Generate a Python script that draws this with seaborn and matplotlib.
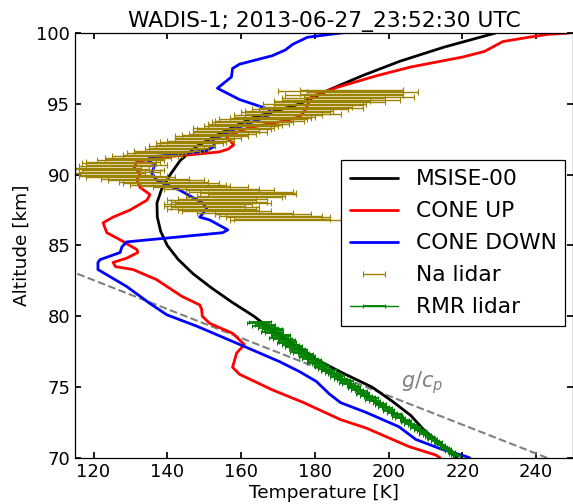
import numpy as np
import pandas as pd
import seaborn as sns
import matplotlib
matplotlib.use("Agg")
import matplotlib.pyplot as plt

# MSISE-00 model profile
msis_alt = [70, 71, 72, 73, 74, 75, 76, 77, 78, 79, 80, 81, 82, 83, 84, 85,
            86, 87, 88, 89, 90, 91, 92, 93, 94, 95, 96, 97, 98, 99, 100]
msis_temp = [218.5, 214, 209.5, 206, 201, 195.5, 187.5, 180, 174.5, 168.5, 163.5, 157.5,
             152, 147, 143, 140, 138.2, 137.3, 137.2, 138.5, 140.8, 143.5, 148,
             155, 163, 176, 184, 193, 203, 215, 229]

# CONE UP (rocket ascent)
up_alt = [100.0, 99.9, 99.7, 99.4, 98.7, 98.3, 97.6, 97.0, 96.2, 95.5, 94.6, 94.1,
          93.8, 93.6, 93.3, 92.9, 92.7, 92.4, 92.1, 91.8, 91.6, 91.4, 91.2, 90.9,
          90.5, 90.1, 89.6, 89.1, 88.6, 88.2, 87.5, 87.0, 86.6, 85.9, 85.4, 84.7,
          84.5, 84.1, 83.8, 83.5, 83.3, 82.6, 81.4, 80.8, 80.5, 80.0, 79.5, 78.8,
          78.0, 77.4, 76.4, 75.9, 74.8, 73.9, 72.7, 72.1, 70.8, 70.2, 70.0]
up_temp = [249, 243, 238, 231, 226, 220, 206, 197, 186.5, 179, 177.5, 176,
           172, 167.7, 162, 158, 156, 157, 158, 156.5, 154, 146, 137, 131.7,
           131, 132.6, 131.8, 132.6, 135.3, 134.5, 129.9, 125.3, 122.6, 123.6, 127.2, 131.8,
           132, 129, 125.3, 126, 130.7, 137, 144, 148.8, 149.3, 149.5, 151.5, 157.7,
           160.9, 158.8, 157.7, 159.6, 168.5, 177, 187, 194, 205.5, 212.8, 214]

# CONE DOWN (rocket descent)
down_alt = [100.3, 100.0, 99.7, 99.2, 98.8, 98.4, 97.8, 97.5, 96.9, 96.1, 95.3, 94.6,
            94.3, 94.1, 93.3, 92.45, 92.0, 91.7, 91.4, 91.25, 91.0, 90.7, 90.1, 89.6,
            88.9, 88.0, 87.6, 87.0, 86.8, 86.1, 85.9, 85.25, 84.9, 84.5, 84.0, 83.8,
            83.3, 82.1, 80.9, 80.1, 79.3, 77.8, 76.8, 76.1, 75.4, 75.0, 74.5, 73.9,
            73.2, 72.2, 71.3, 70.6, 70.1, 70.0]
down_temp = [200, 187, 178, 174, 172, 168.5, 159.6, 157.7, 157.4, 153.6, 159.6, 167.7,
             168, 166.9, 159, 152.3, 152.8, 150.7, 141.5, 135.3, 134.7, 136.6, 135.8, 137.2,
             143.4, 149.6, 150.7, 148.8, 151.5, 156.4, 155, 129, 127.7, 127.2, 121.8, 121.2,
             121.2, 129, 135.3, 139.9, 148, 161.5, 170.4, 175.8, 180.4, 182, 184, 187,
             194, 202.8, 207.4, 214.5, 221, 222]

# Na lidar
na_alt = [96.0, 95.9, 95.8, 95.7, 95.6, 95.5, 95.4, 95.3, 95.2, 95.1,
          95.0, 94.9, 94.8, 94.7, 94.6, 94.5, 94.4, 94.3, 94.2, 94.1,
          94.0, 93.9, 93.8, 93.7, 93.6, 93.5, 93.4, 93.3, 93.2, 93.1,
          93.0, 92.9, 92.8, 92.7, 92.6, 92.5, 92.4, 92.3, 92.2, 92.1,
          92.0, 91.9, 91.8, 91.7, 91.6, 91.5, 91.4, 91.3, 91.2, 91.1,
          91.0, 90.9, 90.8, 90.7, 90.6, 90.5, 90.4, 90.3, 90.2, 90.1,
          90.0, 89.9, 89.8, 89.7, 89.6, 89.5, 89.4, 89.3, 89.2, 89.1,
          89.0, 88.9, 88.8, 88.7, 88.6, 88.5, 88.4, 88.3, 88.2, 88.1,
          88.0, 87.9, 87.8, 87.7, 87.6, 87.5, 87.4, 87.3, 87.2, 87.1,
          87.0, 86.9, 86.8]
na_temp = [190, 187, 193, 190, 188, 192, 185, 187, 182, 184,
           180, 181, 178, 179, 176, 173, 172, 174, 170, 169,
           168, 166, 165, 163, 162, 161, 160, 158, 158, 156,
           157, 155, 153, 152, 151, 150, 149, 147, 146, 145,
           144, 143, 142, 140, 139, 137, 136, 134, 132, 131,
           130, 128, 127, 129, 126, 124, 125, 128, 127, 124,
           126, 128, 130, 134, 137, 139, 141, 143, 145, 149,
           152, 157, 160, 162, 163, 160, 158, 155, 152, 154,
           155, 151, 150, 153, 152, 154, 156, 161, 166, 168,
           170, 171, 172]
na_err = [14, 17, 15, 14, 16, 15, 14, 16, 13, 15,
          14, 12, 12, 14, 13, 12, 12, 13, 12, 11,
          11, 12, 12, 11, 11, 10, 10, 11, 10, 9,
          10, 9, 9, 10, 9, 8, 9, 9, 9, 8,
          9, 8, 8, 9, 8, 8, 8, 9, 9, 8,
          9, 10, 10, 11, 10, 9, 10, 11, 11, 10,
          10, 12, 12, 12, 13, 12, 13, 13, 12, 13,
          13, 12, 14, 13, 12, 12, 13, 12, 12, 13,
          13, 12, 11, 12, 12, 11, 12, 13, 13, 14,
          14, 13, 15]

# RMR lidar
rmr_alt = [79.6, 79.5, 79.4, 79.3, 79.2, 79.1, 79.0, 78.9, 78.8, 78.7, 78.6, 78.5,
           78.4, 78.3, 78.2, 78.1, 78.0, 77.9, 77.8, 77.7, 77.6, 77.5, 77.4, 77.3,
           77.2, 77.1, 77.0, 76.9, 76.8, 76.7, 76.6, 76.5, 76.4, 76.3, 76.2, 76.1,
           76.0, 75.9, 75.8, 75.7, 75.6, 75.5, 75.4, 75.3, 75.2, 75.1, 75.0, 74.9,
           74.8, 74.7, 74.6, 74.5, 74.4, 74.3, 74.2, 74.1, 74.0, 73.9, 73.8, 73.7,
           73.6, 73.5, 73.4, 73.3, 73.2, 73.1, 73.0, 72.9, 72.8, 72.7, 72.6, 72.5,
           72.4, 72.3, 72.2, 72.1, 72.0, 71.9, 71.8, 71.7, 71.6, 71.5, 71.4, 71.3,
           71.2, 71.1, 71.0, 70.9, 70.8, 70.7, 70.6, 70.5, 70.4, 70.3, 70.2, 70.1]
rmr_temp = [165.2, 164.6, 166.5, 166.0, 167.2, 168.4, 168.8, 168.1, 169.0, 170.6, 170.9, 170.2,
            171.2, 172.4, 172.6, 172.0, 173.4, 174.3, 174.1, 175.2, 175.8, 175.4, 176.2, 177.5,
            178.0, 177.6, 178.7, 179.8, 180.1, 180.0, 181.2, 181.9, 182.0, 182.6, 183.9, 183.5,
            184.6, 185.4, 186.0, 185.8, 186.9, 187.8, 188.5, 188.2, 189.1, 190.2, 190.6, 190.5,
            191.4, 192.5, 193.0, 192.8, 193.8, 194.9, 195.4, 195.1, 196.2, 197.1, 197.7, 197.6,
            198.5, 199.6, 200.0, 199.9, 201.0, 202.0, 202.3, 202.4, 203.1, 204.3, 204.8, 204.7,
            205.5, 206.6, 207.2, 207.0, 208.0, 209.0, 209.3, 209.5, 210.4, 211.2, 211.6, 211.9,
            212.7, 213.4, 213.6, 214.1, 214.9, 215.5, 215.8, 216.3, 217.0, 217.4, 217.9, 218.4]
rmr_err = [3.0, 2.9, 2.8, 2.9, 2.7, 2.6, 2.7, 2.6, 2.5, 2.6, 2.4, 2.5,
           2.5, 2.3, 2.4, 2.3, 2.2, 2.3, 2.2, 2.1, 2.2, 2.1, 2.2, 2.0,
           2.1, 2.0, 2.1, 2.0, 1.9, 2.0, 1.9, 2.0, 1.9, 1.8, 1.9, 1.8,
           1.9, 1.8, 1.8, 1.7, 1.8, 1.7, 1.8, 1.7, 1.7, 1.6, 1.7, 1.6,
           1.7, 1.6, 1.6, 1.5, 1.6, 1.5, 1.6, 1.5, 1.5, 1.4, 1.5, 1.4,
           1.5, 1.4, 1.4, 1.4, 1.3, 1.4, 1.3, 1.4, 1.3, 1.3, 1.2, 1.3,
           1.3, 1.2, 1.3, 1.2, 1.2, 1.2, 1.1, 1.2, 1.1, 1.2, 1.1, 1.1,
           1.1, 1.1, 1.0, 1.1, 1.0, 1.0, 1.1, 1.0, 1.0, 1.0, 0.9, 1.0]

# dry adiabatic lapse rate line
gcp_alt = [70, 84]
gcp_t70 = 243.0
gcp_rate = 9.8  # K/km

sns.set_theme(style="ticks", rc={
    "xtick.direction": "in", "ytick.direction": "in",
    "xtick.top": True, "ytick.right": True,
    "xtick.major.size": 4, "ytick.major.size": 4,
    "axes.edgecolor": "black", "axes.linewidth": 0.9,
    "text.color": "black", "axes.labelcolor": "black",
    "xtick.color": "black", "ytick.color": "black",
})
plt.rcParams["font.family"] = ["DejaVu Sans"]

fig = plt.figure(figsize=(5.73, 5.04), dpi=100)
ax = fig.add_axes([0.131, 0.0915, 0.869, 0.843])

df_msis = pd.DataFrame({"T": msis_temp, "z": msis_alt})
df_up = pd.DataFrame({"T": up_temp, "z": up_alt})
df_down = pd.DataFrame({"T": down_temp, "z": down_alt})

sns.lineplot(data=df_msis, x="T", y="z", sort=False, orient="y", estimator=None,
             color="black", lw=2, label="MSISE-00", ax=ax)
sns.lineplot(data=df_up, x="T", y="z", sort=False, orient="y", estimator=None,
             color="red", lw=2, label="CONE UP", ax=ax)
sns.lineplot(data=df_down, x="T", y="z", sort=False, orient="y", estimator=None,
             color="blue", lw=2, label="CONE DOWN", ax=ax)

ax.errorbar(na_temp, na_alt, xerr=na_err, fmt="none", ecolor="#9b8300",
            elinewidth=1.0, capsize=2.5, capthick=0.8, label="Na lidar")
ax.errorbar(rmr_temp, rmr_alt, xerr=rmr_err, fmt="-", color="green", lw=1,
            ecolor="green", elinewidth=1.3, capsize=1.5, capthick=0.8, label="RMR lidar")

gcp_temp = [gcp_t70 - gcp_rate * (a - 70) for a in gcp_alt]
ax.plot(gcp_temp, gcp_alt, ls="--", color="gray", lw=1.5, zorder=1)
ax.text(209, 75.3, "$g/c_p$", color="gray", fontsize=15, ha="center", va="center")

ax.set_xlim(115, 250)
ax.set_ylim(70, 100)
ax.set_xticks([120, 140, 160, 180, 200, 220, 240])
ax.set_yticks([70, 75, 80, 85, 90, 95, 100])
ax.tick_params(labelsize=13)
ax.set_xlabel("Temperature [K]", fontsize=13.3, labelpad=2)
ax.set_ylabel("Altitude [km]", fontsize=13.3, labelpad=4)
ax.set_title("WADIS-1; 2013-06-27_23:52:30 UTC", fontsize=15.7, pad=4)

leg = ax.legend(loc="upper left", bbox_to_anchor=(0.535, 0.70), borderaxespad=0,
                fontsize=15.7, fancybox=False, framealpha=1, edgecolor="black",
                handlelength=2.2, labelspacing=0.55)
leg.get_frame().set_linewidth(0.9)

fig.savefig("out.png", dpi=100)
